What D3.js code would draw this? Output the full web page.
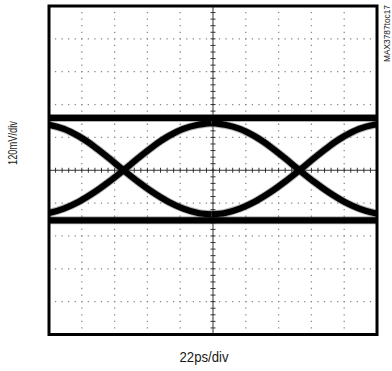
<!DOCTYPE html>
<html>
<head>
<meta charset="utf-8" />
<title>Eye diagram</title>
<style>
    body { margin: 0; background: #fff; overflow: hidden; }
    text { font-family: "Liberation Sans Narrow", "Liberation Sans", Arial, sans-serif; fill: #1a1a1a; }
</style>
</head>
<body>
<div id="chart"></div>
<script src="https://d3js.org/d3.v7.min.js"></script>
<script>
    // screen divisions: 22ps/div horizontally, 120mV/div vertically
    var timeDivs = [0, 22, 44, 66, 88, 110, 132, 154, 176, 198, 220];
    var voltDivs = [-600, -480, -360, -240, -120, 0, 120, 240, 360, 480, 600];

    // where the transitions cross (ps)
    var crossings = [50, 168];
    // one transition: offset from crossing (ps) vs level (mV)
    var edgeOffset = [-59, -50, -40, -30, -20, -10, 0, 10, 20, 30, 40, 50, 59];
    var risingEdge = [-161, -156, -140, -115, -82, -43, 0, 45, 88, 124, 151, 166, 172];
    var fallingEdge = [172, 166, 151, 124, 88, 45, 0, -43, -82, -115, -140, -156, -161];
    // steady one / zero levels (mV)
    var railLevels = [191, -183];

    var W = 392, H = 371;
    var margin = { left: 49, top: 6 };
    var width = 328, height = 328.5;

    var svg = d3.select("#chart")
        .append("svg")
        .attr("width", W)
        .attr("height", H);

    var g = svg.append("g")
        .attr("transform", `translate(${margin.left},${margin.top})`);

    var x = d3.scaleLinear().domain([0, 220]).range([0, width]);
    var y = d3.scaleLinear().domain([-600, 600]).range([height, 0]);

    var stepX = x(22) - x(0);
    var stepY = y(0) - y(120);

    // dotted grid
    var grid = g.append("g");
    grid.selectAll(".vdot")
        .data(timeDivs.filter(d => d > 0 && d < 220 && d != 110))
        .join("line")
        .attr("x1", d => x(d)).attr("x2", d => x(d))
        .attr("y1", 0).attr("y2", height)
        .style("stroke", "#8a8a8a")
        .style("stroke-width", 1.3)
        .style("stroke-dasharray", `1.3,${stepY / 5 - 1.3}`)
        .style("stroke-dashoffset", 0.65);
    grid.selectAll(".hdot")
        .data(voltDivs.filter(d => d > -600 && d < 600 && d != 0))
        .join("line")
        .attr("y1", d => y(d)).attr("y2", d => y(d))
        .attr("x1", 0).attr("x2", width)
        .style("stroke", "#8a8a8a")
        .style("stroke-width", 1.3)
        .style("stroke-dasharray", `1.3,${stepX / 5 - 1.3}`)
        .style("stroke-dashoffset", 0.65);

    // centre axes with minor ticks
    grid.append("line")
        .attr("x1", x(110)).attr("x2", x(110)).attr("y1", 0).attr("y2", height)
        .style("stroke", "#333").style("stroke-width", 1);
    grid.append("line")
        .attr("y1", y(0)).attr("y2", y(0)).attr("x1", 0).attr("x2", width)
        .style("stroke", "#333").style("stroke-width", 1);

    var minorT = [], minorV = [];
    timeDivs.slice(0, -1).forEach(d => { for (var k = 1; k < 5; k++) minorT.push(d + k * 22 / 5); });
    voltDivs.slice(0, -1).forEach(d => { for (var k = 1; k < 5; k++) minorV.push(d + k * 120 / 5); });

    grid.selectAll(".tx")
        .data(minorT.concat(timeDivs))
        .join("line")
        .attr("x1", d => x(d)).attr("x2", d => x(d))
        .attr("y1", y(0) - 2.5).attr("y2", y(0) + 2.5)
        .style("stroke", "#333").style("stroke-width", 1);
    grid.selectAll(".ty")
        .data(minorV.concat(voltDivs))
        .join("line")
        .attr("y1", d => y(d)).attr("y2", d => y(d))
        .attr("x1", x(110) - 2.5).attr("x2", x(110) + 2.5)
        .style("stroke", "#333").style("stroke-width", 1);

    // eye traces
    svg.append("clipPath").attr("id", "plot")
        .append("rect").attr("width", width).attr("height", height);

    var eye = g.append("g").attr("clip-path", "url(#plot)");

    var traces = [];
    railLevels.forEach(v => traces.push([[-10, v], [230, v]]));
    crossings.forEach(c => {
        traces.push(edgeOffset.map((o, i) => [c + o, risingEdge[i]]));
        traces.push(edgeOffset.map((o, i) => [c + o, fallingEdge[i]]));
    });

    var line = d3.line()
        .x(d => x(d[0]))
        .y(d => y(d[1]))
        .curve(d3.curveCatmullRom);

    // soft noisy halo, then the dense core
    eye.selectAll(".halo")
        .data(traces)
        .join("path")
        .attr("d", line)
        .style("fill", "none")
        .style("stroke", "#555")
        .style("stroke-opacity", 0.45)
        .style("stroke-width", 8);
    eye.selectAll(".core")
        .data(traces)
        .join("path")
        .attr("d", line)
        .style("fill", "none")
        .style("stroke", "#000")
        .style("stroke-width", 6.2);

    // frame
    g.append("rect")
        .attr("width", width).attr("height", height)
        .style("fill", "none")
        .style("stroke", "#000")
        .style("stroke-width", 3);

    // labels
    svg.append("text")
        .attr("x", 204).attr("y", 362)
        .attr("text-anchor", "middle")
        .attr("font-size", 14)
        .attr("textLength", 49)
        .attr("lengthAdjust", "spacingAndGlyphs")
        .text("22ps/div");

    svg.append("text")
        .attr("transform", "translate(17,143) rotate(-90)")
        .attr("text-anchor", "middle")
        .attr("font-size", 12)
        .attr("textLength", 44)
        .attr("lengthAdjust", "spacingAndGlyphs")
        .text("120mV/div");

    svg.append("text")
        .attr("transform", "translate(390,33.5) rotate(-90)")
        .attr("text-anchor", "middle")
        .attr("font-size", 8.5)
        .attr("textLength", 57)
        .attr("lengthAdjust", "spacingAndGlyphs")
        .text("MAX3787toc17");
</script>
</body>
</html>
